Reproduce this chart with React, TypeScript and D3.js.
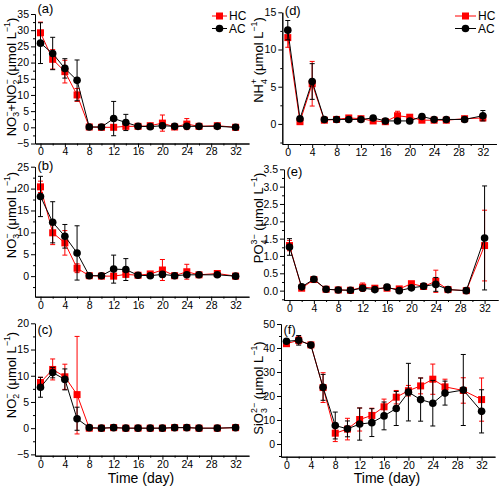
import React, { useEffect, useRef } from 'react';
import * as d3 from 'd3';

// sampling days
const days = [0, 2, 4, 6, 8, 10, 12, 14, 16, 18, 20, 22, 24, 26, 29, 32];

// (a) NO3- + NO2-
const hcNOx = [29.2, 21.0, 17.2, 10.0, 0.1, 0.0, 0.0, 0.3, 0.3, 0.5, 1.3, 0.1, 1.0, 0.3, 0.5, 0.0];
const hcNOxErr = [3.3, 3.0, 3.5, 2.0, 0.3, 0.2, 0.3, 0.6, 0.5, 0.6, 2.5, 0.4, 1.7, 0.5, 0.6, 0.2];
const acNOx = [26.0, 22.8, 18.2, 14.5, 0.1, 0.1, 2.7, 1.5, 0.3, 0.2, 0.5, 0.3, 0.3, 0.3, 0.3, 0.0];
const acNOxErr = [6.3, 5.0, 3.0, 6.3, 0.3, 0.2, 5.3, 2.5, 0.5, 0.4, 0.8, 0.4, 0.5, 0.5, 0.5, 0.2];

// (b) NO3-
const hcNO3 = [20.4, 9.9, 7.6, 1.8, 0.1, 0.0, 0.0, 0.4, 0.2, 0.5, 1.4, 0.1, 1.0, 0.3, 0.6, 0.0];
const hcNO3Err = [1.3, 2.7, 2.8, 1.0, 0.3, 0.2, 0.3, 0.6, 0.4, 0.5, 2.4, 0.3, 1.7, 0.4, 0.5, 0.2];
const acNO3 = [18.2, 12.3, 9.1, 5.3, 0.1, 0.1, 1.6, 1.5, 0.2, 0.1, 0.4, 0.1, 0.3, 0.3, 0.3, 0.0];
const acNO3Err = [4.6, 4.7, 2.7, 6.2, 0.3, 0.2, 3.2, 2.5, 0.3, 0.3, 0.6, 0.3, 0.4, 0.4, 0.4, 0.2];

// (c) NO2-
const hcNO2 = [8.7, 11.2, 9.8, 6.4, 0.0, 0.0, 0.1, 0.0, 0.0, 0.0, 0.0, 0.1, 0.1, 0.0, 0.0, 0.1];
const hcNO2Err = [1.0, 2.0, 2.4, 11.1, 0.2, 0.1, 0.1, 0.1, 0.1, 0.1, 0.2, 0.1, 0.1, 0.1, 0.1, 0.1];
const hcNO2ErrLow = [1.0, 2.0, 2.4, 7.5, 0.2, 0.1, 0.1, 0.1, 0.1, 0.1, 0.2, 0.1, 0.1, 0.1, 0.1, 0.1];
const acNO2 = [7.8, 10.6, 9.3, 1.8, 0.1, 0.0, 0.1, 0.0, 0.0, 0.0, 0.0, 0.1, 0.1, 0.0, 0.0, 0.1];
const acNO2Err = [1.9, 1.0, 2.0, 2.2, 0.2, 0.1, 0.1, 0.1, 0.1, 0.1, 0.1, 0.1, 0.1, 0.1, 0.1, 0.1];

// (d) NH4+
const hcNH4 = [11.6, 0.3, 5.4, 0.5, 0.6, 0.8, 0.7, 0.4, 0.3, 1.1, 0.9, 0.5, 0.5, 0.5, 0.7, 0.8];
const hcNH4Err = [1.3, 0.2, 3.0, 0.2, 0.2, 0.3, 0.2, 0.2, 0.2, 0.6, 0.2, 0.2, 0.2, 0.2, 0.2, 0.3];
const acNH4 = [12.6, 0.7, 5.7, 0.6, 0.6, 0.6, 0.6, 0.8, 0.4, 0.4, 0.4, 1.0, 0.6, 0.6, 0.6, 1.1];
const acNH4Err = [1.3, 0.3, 2.4, 0.2, 0.2, 0.2, 0.2, 0.2, 0.2, 0.2, 0.2, 0.2, 0.2, 0.2, 0.2, 0.7];

// (e) PO4 3-
const hcPO4 = [1.3, 0.07, 0.32, 0.04, 0.02, 0.01, 0.1, 0.07, 0.07, 0.05, 0.2, 0.12, 0.27, 0.03, 0.0, 1.3];
const hcPO4Err = [0.15, 0.03, 0.05, 0.03, 0.02, 0.02, 0.12, 0.04, 0.05, 0.04, 0.05, 0.04, 0.32, 0.02, 0.01, 1.02];
const acPO4 = [1.26, 0.11, 0.33, 0.04, 0.02, 0.01, 0.07, 0.03, 0.1, 0.0, 0.08, 0.13, 0.18, 0.03, 0.0, 1.52];
const acPO4Err = [0.24, 0.04, 0.05, 0.02, 0.02, 0.02, 0.05, 0.03, 0.08, 0.02, 0.04, 0.04, 0.2, 0.02, 0.01, 1.5];

// (f) SiO3 2-
const hcSiO3 = [41.8, 43.2, 41.3, 23.5, 4.5, 6.2, 10.2, 11.9, 15.5, 19.5, 22.2, 24.2, 27.0, 23.8, 22.3, 18.5];
const hcSiO3Err = [0.6, 1.5, 0.6, 6.2, 3.5, 4.5, 4.8, 3.0, 3.2, 2.8, 2.2, 3.3, 6.3, 3.2, 5.3, 9.0];
const acSiO3 = [42.8, 43.2, 41.2, 23.6, 7.7, 6.3, 8.3, 8.9, 11.7, 14.8, 21.6, 18.5, 17.0, 21.2, 22.5, 13.6];
const acSiO3Err = [0.6, 2.0, 0.6, 5.4, 5.6, 3.3, 6.7, 5.8, 5.8, 7.1, 12.0, 9.0, 9.5, 5.0, 14.8, 9.0];

const xTicks = [0, 4, 8, 12, 16, 20, 24, 28, 32];
const xMinor = [2, 6, 10, 14, 18, 22, 26, 30];
const legendNames = ['HC', 'AC'];

type Part = { t: string; s?: 'sub' | 'sup'; back?: boolean };

const umol: Part[] = [{ t: ' (μmol L' }, { t: '−1', s: 'sup' }, { t: ')' }];

type Panel = {
  tag: string; left: number; top: number; bottom: number; y: [number, number]; major: number[]; step: number; fmt: string;
  hc: number[]; hcErr: number[]; hcErrLow?: number[]; ac: number[]; acErr: number[];
  labelX: number; labelY: number; tagY: number; legend?: [number, number]; time?: boolean; ylabel: Part[];
};

const panels: Panel[] = [
  {
    tag: '(a)', left: 35, top: 14, bottom: 143.5, y: [-5, 35], major: d3.range(-5, 36, 5), step: 5, fmt: 'd',
    hc: hcNOx, hcErr: hcNOxErr, ac: acNOx, acErr: acNOxErr, labelX: 15.5, labelY: 77, tagY: 13, legend: [212, 227],
    ylabel: [{ t: 'NO' }, { t: '3', s: 'sub' }, { t: '−', s: 'sup', back: true }, { t: '+NO' }, { t: '2', s: 'sub' }, { t: '−', s: 'sup', back: true }, ...umol],
  },
  {
    tag: '(b)', left: 35, top: 166.7, bottom: 296.7, y: [-4.7, 25], major: d3.range(0, 26, 5), step: 5, fmt: 'd',
    hc: hcNO3, hcErr: hcNO3Err, ac: acNO3, acErr: acNO3Err, labelX: 15.5, labelY: 215, tagY: 170,
    ylabel: [{ t: 'NO' }, { t: '3', s: 'sub' }, { t: '−', s: 'sup', back: true }, ...umol],
  },
  {
    tag: '(c)', left: 35, top: 323.3, bottom: 455.7, y: [-5.25, 20], major: d3.range(-5, 21, 5), step: 5, fmt: 'd',
    hc: hcNO2, hcErr: hcNO2Err, hcErrLow: hcNO2ErrLow, ac: acNO2, acErr: acNO2Err, labelX: 15.5, labelY: 375, tagY: 334, time: true,
    ylabel: [{ t: 'NO' }, { t: '2', s: 'sub' }, { t: '−', s: 'sup', back: true }, ...umol],
  },
  {
    tag: '(d)', left: 282.3, top: 12.3, bottom: 144, y: [-2.7, 15], major: d3.range(0, 16, 5), step: 5, fmt: 'd',
    hc: hcNH4, hcErr: hcNH4Err, ac: acNH4, acErr: acNH4Err, labelX: 263, labelY: 60, tagY: 15, legend: [455, 476],
    ylabel: [{ t: 'NH' }, { t: '4', s: 'sub' }, { t: '+', s: 'sup', back: true }, ...umol],
  },
  {
    tag: '(e)', left: 284, top: 169.3, bottom: 300, y: [-0.27, 3.5], major: d3.range(0, 3.51, 0.5), step: 0.5, fmt: '.1f',
    hc: hcPO4, hcErr: hcPO4Err, ac: acPO4, acErr: acPO4Err, labelX: 263, labelY: 218, tagY: 176,
    ylabel: [{ t: 'PO' }, { t: '4', s: 'sub' }, { t: '3−', s: 'sup', back: true }, ...umol],
  },
  {
    tag: '(f)', left: 281, top: 324, bottom: 456.7, y: [-5.3, 50], major: d3.range(0, 51, 10), step: 10, fmt: 'd',
    hc: hcSiO3, hcErr: hcSiO3Err, ac: acSiO3, acErr: acSiO3Err, labelX: 263, labelY: 388, tagY: 334, time: true,
    ylabel: [{ t: 'SiO' }, { t: '3', s: 'sub' }, { t: '2−', s: 'sup', back: true }, ...umol],
  },
];

const FONT = 'Arial, "Liberation Sans", sans-serif';
const RED = '#ff0000';

export default function App() {
  const svgRef = useRef<SVGSVGElement | null>(null);

  useEffect(() => {
    if (!svgRef.current) return;
    const svg = d3.select(svgRef.current);
    svg.selectAll('*').remove();

    panels.forEach((p) => {
      const x = d3.scaleLinear().domain([-0.9, 34.2]).range([p.left, p.left + 214]);
      const y = d3.scaleLinear().domain(p.y).range([p.bottom, p.top]);
      const g = svg.append('g');

      const half = p.step / 2;
      const minorY = d3
        .range(Math.ceil(p.y[0] / half) * half, p.y[1] + 1e-6, half)
        .filter((v) => !p.major.some((m) => Math.abs(m - v) < 1e-6));

      // minor ticks
      g.append('g')
        .attr('transform', `translate(0,${p.bottom})`)
        .call(d3.axisBottom(x).tickValues(xMinor).tickSize(2).tickSizeOuter(0).tickFormat(() => ''));
      g.append('g')
        .attr('transform', `translate(${p.left},0)`)
        .call(d3.axisLeft(y).tickValues(minorY).tickSize(2).tickSizeOuter(0).tickFormat(() => ''));

      // major axes
      g.append('g')
        .attr('transform', `translate(0,${p.bottom})`)
        .call(d3.axisBottom(x).tickValues(xTicks).tickSize(4).tickSizeOuter(0).tickPadding(0.5))
        .call((a) => a.selectAll('text').attr('font-size', 10.5).attr('font-family', FONT).attr('fill', '#000'));
      g.append('g')
        .attr('transform', `translate(${p.left},0)`)
        .call(d3.axisLeft(y).tickValues(p.major).tickSize(4).tickSizeOuter(0).tickPadding(2).tickFormat(d3.format(p.fmt)))
        .call((a) => a.selectAll('text').attr('font-size', 10.5).attr('font-family', FONT).attr('fill', '#000'));

      const series = [
        { v: p.hc, e: p.hcErr, lo: p.hcErrLow || p.hcErr, c: RED, sq: true },
        { v: p.ac, e: p.acErr, lo: p.acErr, c: '#000', sq: false },
      ];

      series.forEach((s) => {
        const pts = days.map((d, i) => ({ d, v: s.v[i], hi: s.v[i] + s.e[i], lo: s.v[i] - s.lo[i] }));
        // error bars
        const eb = g.append('g').attr('stroke', s.c).attr('stroke-width', 1);
        pts.forEach((q) => {
          const cx = x(q.d);
          eb.append('line').attr('x1', cx).attr('x2', cx).attr('y1', y(q.lo)).attr('y2', y(q.hi));
          eb.append('line').attr('x1', cx - 2.5).attr('x2', cx + 2.5).attr('y1', y(q.lo)).attr('y2', y(q.lo));
          eb.append('line').attr('x1', cx - 2.5).attr('x2', cx + 2.5).attr('y1', y(q.hi)).attr('y2', y(q.hi));
        });
        const line = d3.line<{ d: number; v: number }>().x((q) => x(q.d)).y((q) => y(q.v));
        g.append('path').attr('d', line(pts)).attr('fill', 'none').attr('stroke', s.c).attr('stroke-width', 1);
        if (s.sq) {
          g.selectAll(null).data(pts).enter().append('rect')
            .attr('x', (q) => x(q.d) - 3.5).attr('y', (q) => y(q.v) - 3.5)
            .attr('width', 7).attr('height', 7).attr('fill', s.c);
        } else {
          g.selectAll(null).data(pts).enter().append('circle')
            .attr('cx', (q) => x(q.d)).attr('cy', (q) => y(q.v)).attr('r', 3.8).attr('fill', s.c);
        }
      });

      // panel tag
      g.append('text').attr('x', p.left + 2.5).attr('y', p.tagY).attr('font-size', 13).attr('font-family', FONT).text(p.tag);

      // y label (rotated, baseline at labelX)
      const fs = 13;
      const t = g.append('text')
        .attr('transform', `translate(${p.labelX},${p.labelY}) rotate(-90)`)
        .attr('text-anchor', 'middle').attr('font-size', fs).attr('font-family', FONT);
      let cur = 0;
      let prevW = 0;
      p.ylabel.forEach((part) => {
        const target = part.s === 'sub' ? fs * 0.3 : part.s === 'sup' ? -fs * 0.45 : 0;
        const size = part.s ? fs * 0.68 : fs;
        const ts = t.append('tspan').attr('dy', target - cur).attr('font-size', size).text(part.t);
        if (part.back) ts.attr('dx', -prevW);
        prevW = part.t.length * size * 0.556;
        cur = target;
      });

      // x label
      if (p.time) {
        g.append('text').attr('x', p.left + 106).attr('y', 483).attr('text-anchor', 'middle')
          .attr('font-size', 14).attr('font-family', FONT).text('Time (day)');
      }

      // legend
      if (p.legend) {
        const [lx0, lx1] = p.legend;
        const lg = g.append('g');
        legendNames.forEach((n, i) => {
          const c = i === 0 ? RED : '#000';
          const yy = 16 + i * 12.5;
          lg.append('line').attr('x1', lx0).attr('x2', lx1).attr('y1', yy).attr('y2', yy).attr('stroke', c);
          const mx = (lx0 + lx1) / 2;
          if (i === 0) lg.append('rect').attr('x', mx - 3.5).attr('y', yy - 3.5).attr('width', 7).attr('height', 7).attr('fill', c);
          else lg.append('circle').attr('cx', mx).attr('cy', yy).attr('r', 3.8).attr('fill', c);
          lg.append('text').attr('x', lx1 + 2).attr('y', yy + 4.3).attr('font-size', 12).attr('font-family', FONT).text(n);
        });
      }
    });
  }, []);

  return (
    <svg ref={svgRef} width={500} height={490} style={{ position: 'absolute', left: 0, top: 0, background: '#fff' }} />
  );
}
